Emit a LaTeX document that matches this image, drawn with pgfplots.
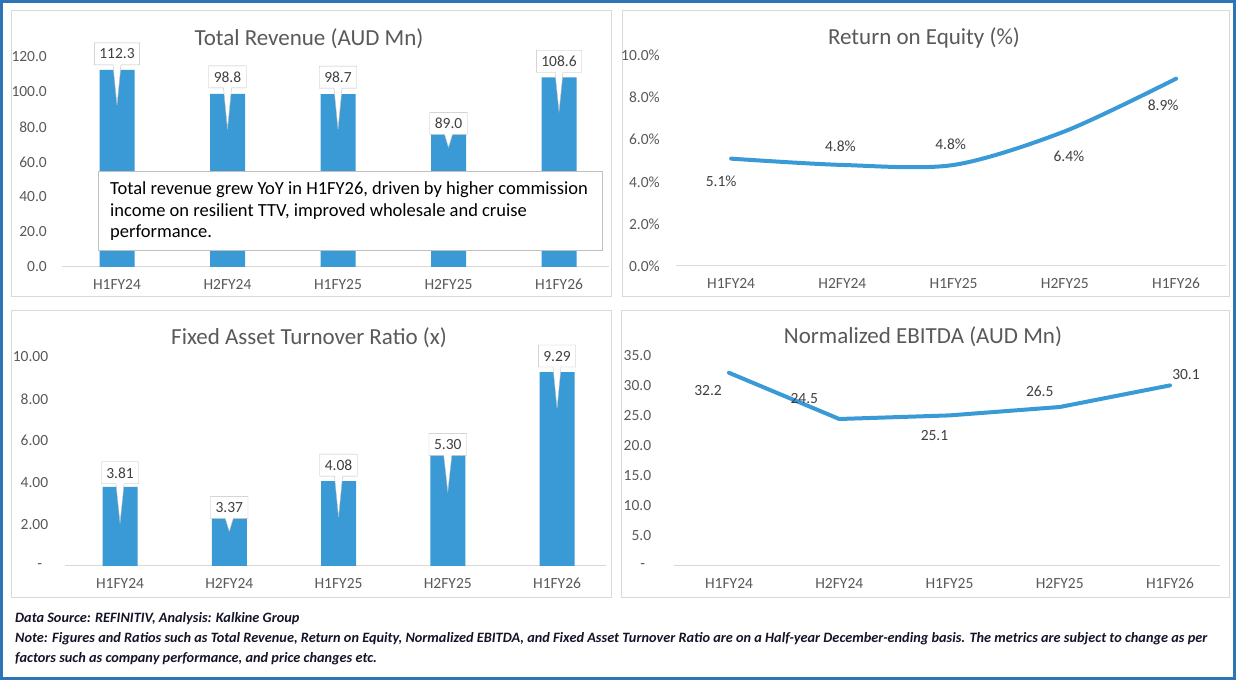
\documentclass[border=0pt]{standalone}
\usepackage{fontspec}
\setmainfont{Carlito}
\usepackage{pgfplots}
\pgfplotsset{compat=1.18}
\usepackage{pgfplotstable}
\usetikzlibrary{shapes.callouts}

\definecolor{barblue}{RGB}{57,154,214}
\definecolor{axgray}{HTML}{D9D9D9}
\definecolor{tickgray}{HTML}{595959}
\definecolor{labgray}{HTML}{404040}
\definecolor{boxgray}{HTML}{BFBFBF}
\definecolor{borderblue}{HTML}{2E75B6}
\definecolor{footcol}{RGB}{20,20,40}

\newcommand{\tickfont}{\fontsize{15.5}{18}\selectfont}
\newcommand{\titlefont}{\fontsize{23}{27}\selectfont}

\pgfplotsset{
  panel/.style={
    scale only axis, clip=false,
    axis x line=bottom, axis y line=left,
    x axis line style={-, draw=axgray, line width=1pt},
    y axis line style={draw=none},
    major tick length=0pt, tick style={draw=none},
    xtick={0,...,4},
    xticklabels={H1FY24,H2FY24,H1FY25,H2FY25,H1FY26},
    xmin=-0.5, xmax=4.45, ymin=0,
    ticklabel style={font=\tickfont, text=tickgray, inner sep=0pt},
    xticklabel style={anchor=north, yshift=-12pt},
    yticklabel style={anchor=east},
    /pgf/number format/assume math mode=true,
  },
  callouts/.style={
    every node near coord/.style={rectangle callout, draw=boxgray, fill=white,
      text=labgray, font=\tickfont, anchor=center, yshift=\up pt,
      callout relative pointer={(0pt,-\ptr pt)}, callout pointer width=8pt,
      inner xsep=5pt, inner ysep=0pt, minimum height=22pt},
  },
  linelabels/.style={
    every node near coord/.style={anchor=center, xshift=\dx pt, yshift=\dy pt,
      text=labgray, font=\tickfont},
  },
}

% bar heights as drawn, labels as printed
\pgfplotstableread{
x y lab up ptr
0 112.6 112.3 16 40
1 98.9 98.8 17 41
2 98.8 98.7 17 41
3 75.8 89.0 11 13
4 108.4 108.6 16 39
}\revtab

\pgfplotstableread{
x y dx dy
0 5.1 -10 -23
1 4.8 -2 19
2 4.8 -3 21
3 6.4 4 -25
4 8.9 -13 -27
}\roetab

\pgfplotstableread{
x y lab up ptr
0 3.79 3.81 14 39
1 2.28 3.37 11 13
2 4.06 4.08 16 41
3 5.29 5.30 11 36
4 9.28 9.29 16 41
}\fatab

\pgfplotstableread{
x y dx dy
0 32.2 -21 -18
1 24.5 -35 20
2 25.1 -15 -20
3 26.5 -20 16
4 30.1 16 11
}\ebtab

\begin{document}
\begin{tikzpicture}[x=1pt,y=1pt]
\useasboundingbox (0,0) rectangle (1236,680);
\draw[borderblue, line width=3pt] (1.5,1.5) rectangle (1234.5,678.5);
\draw[axgray, line width=1pt] (11,383) rectangle (611.5,669);
\draw[axgray, line width=1pt] (622,383) rectangle (1229,669);
\draw[axgray, line width=1pt] (11,83) rectangle (611,369.3);
\draw[axgray, line width=1pt] (621,83) rectangle (1229,369.3);

% Total Revenue
\begin{axis}[panel, at={(61.75pt,413pt)}, anchor=south west,
  width=547pt, height=210pt, ymax=120,
  ytick={0,20,...,120},
  yticklabels={0.0,20.0,40.0,60.0,80.0,100.0,120.0},
  yticklabel style={xshift=-14.7pt}]
\addplot[ybar, bar width=35pt, fill=barblue, draw=none, callouts,
  point meta=explicit,
  nodes near coords={\pgfmathprintnumber[fixed,fixed zerofill,precision=1]{\pgfplotspointmeta}},
  visualization depends on={\thisrow{up} \as \up},
  visualization depends on={\thisrow{ptr} \as \ptr}]
  table[x=x, y=y, meta=lab] \revtab;
\end{axis}
\node[anchor=base, text=tickgray, font=\titlefont] at (309,634.3) {Total Revenue (AUD Mn)};
\node[draw=boxgray, fill=white, line width=1pt, anchor=north west,
  minimum width=504pt, minimum height=79pt] at (98.3,509) {};
\node[anchor=base west, align=left, text=black, inner sep=0pt,
  font=\fontsize{18.5}{21.8}\selectfont] at (110,442)
  {Total revenue grew YoY in H1FY26, driven by higher commission\\
   income on resilient TTV, improved wholesale and cruise\\
   performance.};

% Return on Equity
\begin{axis}[panel, at={(675.5pt,414pt)}, anchor=south west,
  width=550.7pt, height=210.5pt, ymax=10,
  ytick={0,2,...,10},
  yticklabels={0.0\%,2.0\%,4.0\%,6.0\%,8.0\%,10.0\%},
  yticklabel style={xshift=-15.5pt}]
\addplot[barblue, line width=4pt, smooth, line cap=round, linelabels,
  point meta=y,
  nodes near coords={\pgfmathprintnumber[fixed,fixed zerofill,precision=1]{\pgfplotspointmeta}\%},
  visualization depends on={\thisrow{dx} \as \dx},
  visualization depends on={\thisrow{dy} \as \dy}]
  table[x=x, y=y] \roetab;
\end{axis}
\node[anchor=base, text=tickgray, font=\titlefont] at (924,635.7) {Return on Equity (\%)};

% Fixed Asset Turnover
\begin{axis}[panel, at={(65.4pt,114pt)}, anchor=south west,
  width=540.8pt, height=209pt, ymax=10,
  ytick={0,2,...,10},
  yticklabels={-\hspace*{6pt},2.00,4.00,6.00,8.00,10.00},
  yticklabel style={xshift=-17pt}]
\addplot[ybar, bar width=35pt, fill=barblue, draw=none, callouts,
  point meta=explicit,
  nodes near coords={\pgfmathprintnumber[fixed,fixed zerofill,precision=2]{\pgfplotspointmeta}},
  visualization depends on={\thisrow{up} \as \up},
  visualization depends on={\thisrow{ptr} \as \ptr}]
  table[x=x, y=y, meta=lab] \fatab;
\end{axis}
\node[anchor=base, text=tickgray, font=\titlefont] at (309,335.7) {Fixed Asset Turnover Ratio (x)};

% Normalized EBITDA
\begin{axis}[panel, at={(673.9pt,114pt)}, anchor=south west,
  width=545.7pt, height=210pt, ymax=35,
  ytick={0,5,...,35},
  yticklabels={-\hspace*{6pt},5.0,10.0,15.0,20.0,25.0,30.0,35.0},
  yticklabel style={xshift=-22.5pt}]
\addplot[barblue, line width=4pt, line cap=round, line join=round, linelabels,
  point meta=y,
  nodes near coords={\pgfmathprintnumber[fixed,fixed zerofill,precision=1]{\pgfplotspointmeta}},
  visualization depends on={\thisrow{dx} \as \dx},
  visualization depends on={\thisrow{dy} \as \dy}]
  table[x=x, y=y] \ebtab;
\end{axis}
\node[anchor=base, text=tickgray, font=\titlefont] at (923,336.7) {Normalized EBITDA (AUD Mn)};

% footer
\begin{scope}[every node/.style={anchor=base west, inner sep=0pt, text=footcol,
  font=\fontsize{14.3}{16}\selectfont\bfseries\itshape}]
\node at (15,57.3) {Data Source: REFINITIV, Analysis: Kalkine Group};
\node at (15,37.3) {Note: Figures and Ratios such as Total Revenue, Return on Equity, Normalized EBITDA, and Fixed Asset Turnover Ratio are on a Half-year December-ending basis. The metrics are subject to change as per};
\node at (15,17.3) {factors such as company performance, and price changes etc.};
\end{scope}
\end{tikzpicture}
\end{document}
